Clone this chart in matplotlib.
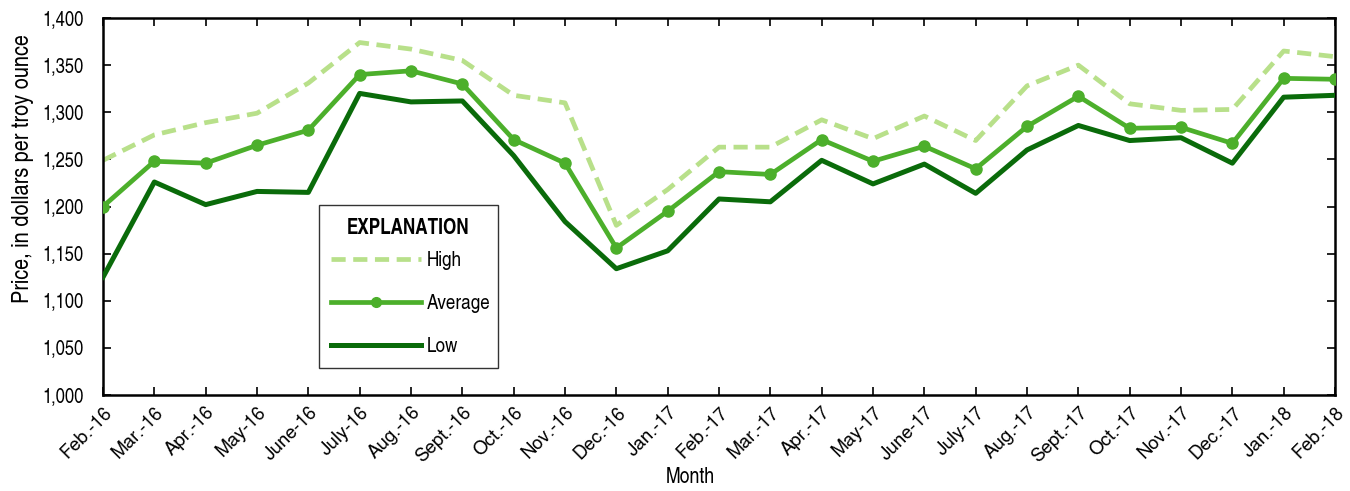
import matplotlib
matplotlib.use("Agg")
import matplotlib.pyplot as plt

plt.rcParams['font.family'] = ['TeX Gyre Heros Cn', 'DejaVu Sans']

months = ['Feb.-16', 'Mar.-16', 'Apr.-16', 'May-16', 'June-16', 'July-16', 'Aug.-16',
          'Sept.-16', 'Oct.-16', 'Nov.-16', 'Dec.-16', 'Jan.-17', 'Feb.-17', 'Mar.-17',
          'Apr.-17', 'May-17', 'June-17', 'July-17', 'Aug.-17', 'Sept.-17', 'Oct.-17',
          'Nov.-17', 'Dec.-17', 'Jan.-18', 'Feb.-18']
high = [1249, 1276, 1289, 1299, 1331, 1374, 1367, 1355, 1318, 1310, 1180, 1218, 1263,
        1263, 1292, 1272, 1296, 1270, 1328, 1350, 1309, 1302, 1303, 1365, 1359]
average = [1200, 1248, 1246, 1265, 1281, 1340, 1344, 1330, 1271, 1246, 1156, 1195, 1237,
           1234, 1271, 1248, 1264, 1240, 1285, 1317, 1283, 1284, 1267, 1336, 1335]
low = [1125, 1226, 1202, 1216, 1215, 1320, 1311, 1312, 1254, 1184, 1134, 1153, 1208,
       1205, 1249, 1224, 1245, 1214, 1260, 1286, 1270, 1273, 1246, 1316, 1318]
yticks = list(range(1000, 1401, 50))

c_high = '#b8e08a'
c_avg = '#4caf2b'
c_low = '#0a6b0a'

fig = plt.figure(figsize=(13.5, 4.91), dpi=100)
ax = fig.add_axes([0.0763, 0.1955, 0.9126, 0.7678])

x = list(range(len(months)))
ax.plot(x, high, color=c_high, lw=3.4, ls=(0, (3, 1.6)), label='High', zorder=2)
ax.plot(x, average, color=c_avg, lw=3.4, marker='o', ms=8, label='Average', zorder=3)
ax.plot(x, low, color=c_low, lw=3.6, label='Low', zorder=4)

ax.set_xlim(0, len(months) - 1)
ax.set_ylim(1000, 1400)
ax.set_yticks(yticks)
ax.set_yticklabels([f'{v:,}' for v in yticks])
ax.set_xticks(x)
ax.set_xticklabels(months, rotation=45, ha='right', va='top', rotation_mode='anchor',
                   family=['TeX Gyre Heros', 'DejaVu Sans'], fontsize=13.5)

ax.tick_params(axis='y', left=True, right=True, direction='in', length=6,
               width=1.2, labelsize=14.5, pad=14)
ax.tick_params(axis='x', bottom=True, top=True, direction='in', length=6, width=1.2,
               pad=6)
for s in ax.spines.values():
    s.set_linewidth(1.8)

ax.set_ylabel('Price, in dollars per troy ounce', fontsize=17.5)
ax.yaxis.set_label_coords(-0.056, 0.6)
ax.set_xlabel('Month', fontsize=15.5)
ax.xaxis.set_label_coords(0.477, -0.192)

leg = ax.legend(loc='upper left', bbox_to_anchor=(0.1753, 0.0, 0.1453, 0.504),
                mode='expand', title='EXPLANATION',
                fontsize=15, title_fontsize=15, frameon=True, fancybox=False,
                edgecolor='black', handlelength=4.3, handletextpad=0.25,
                labelspacing=1.15, borderpad=0.6, borderaxespad=0)
leg.get_title().set_fontweight('bold')
leg.get_frame().set_linewidth(1.0)
leg._legend_box.sep = 0.6 * 15
for h in leg.legend_handles:
    if h.get_marker() == 'o':
        h.set_markersize(7)

fig.savefig('out.png', dpi=100)
